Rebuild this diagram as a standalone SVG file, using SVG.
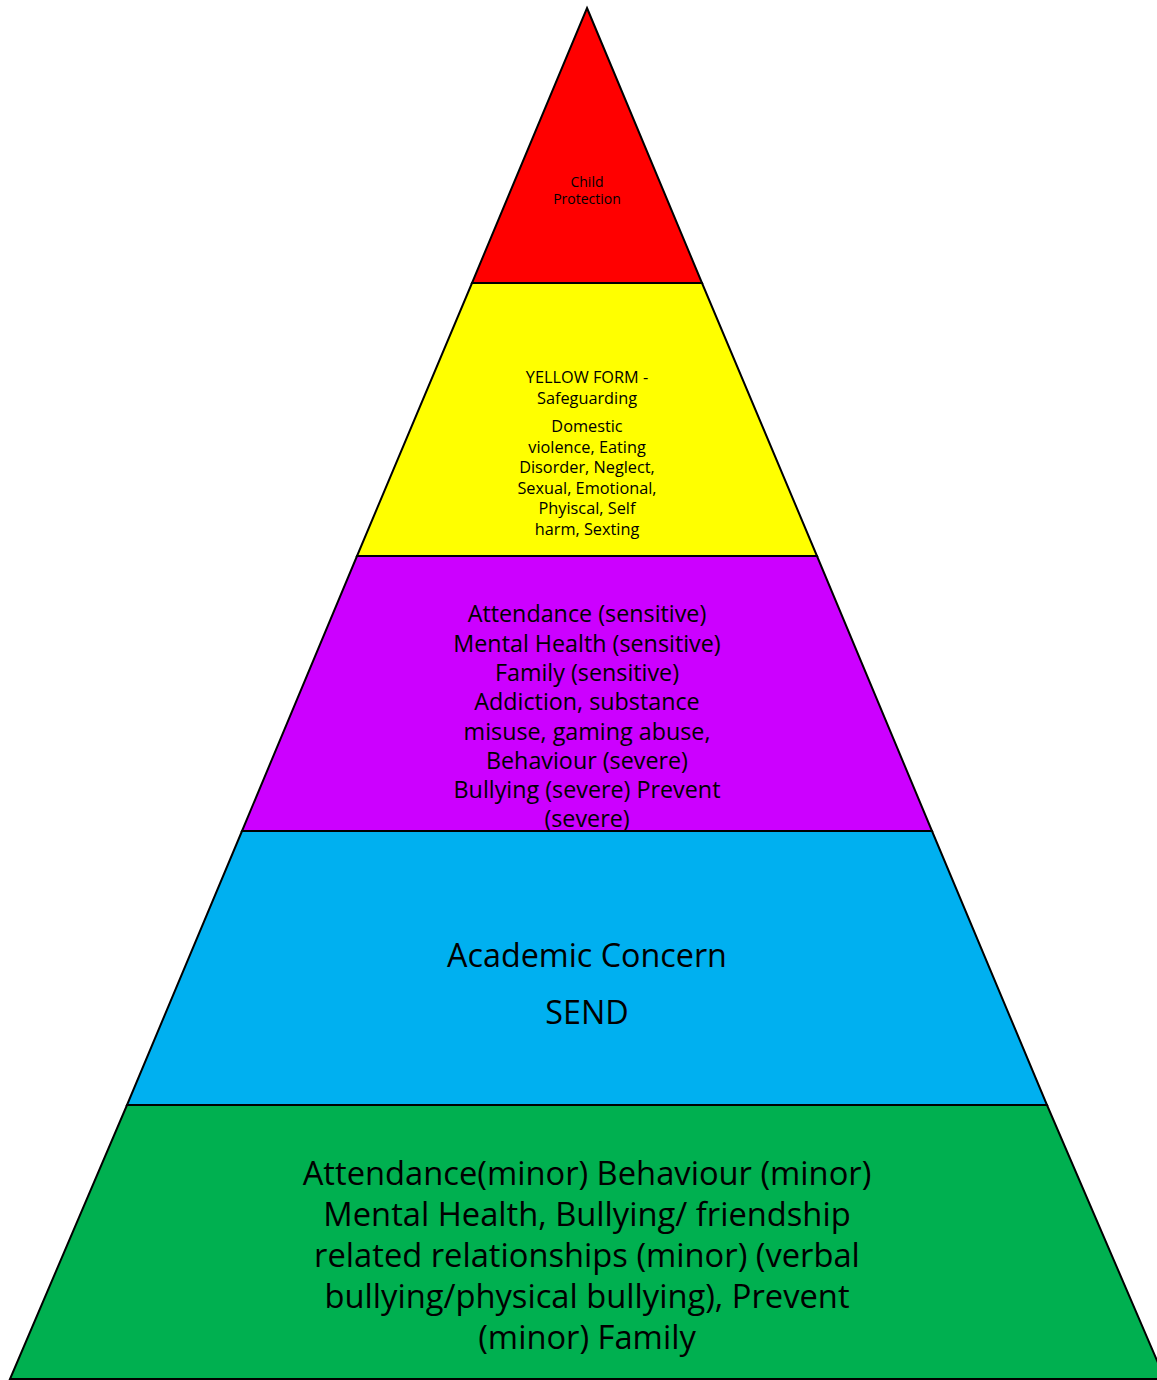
<svg xmlns="http://www.w3.org/2000/svg" width="1157" height="1380" viewBox="0 0 1157 1380">
<style>
.band{stroke:#000;stroke-width:2;stroke-linejoin:miter}
text{font-family:"Open Sans","Liberation Sans",Arial,sans-serif;fill:#000;text-anchor:middle}
.t1{font-size:14px}
.t2{font-size:16.3px}
.t3{font-size:23.3px}
.t4{font-size:32.3px}
.t5{font-size:32.7px}
</style>
<rect width="1157" height="1380" fill="#fff"/>
<g id="child-protection">
<polygon class="band" points="587,8 702,283 472,283" fill="#ff0000"/>
<text class="t1" x="587" y="187">Child</text>
<text class="t1" x="587" y="204">Protection</text>
</g>
<g id="yellow-form">
<polygon class="band" points="472,283 702,283 817,556 357,556" fill="#ffff00"/>
<text class="t2" x="587" y="383">YELLOW FORM -</text>
<text class="t2" x="587" y="404">Safeguarding</text>
<text class="t2" x="587" y="432">Domestic</text>
<text class="t2" x="587" y="453">violence, Eating</text>
<text class="t2" x="587" y="473">Disorder, Neglect,</text>
<text class="t2" x="587" y="494">Sexual, Emotional,</text>
<text class="t2" x="587" y="514">Phyiscal, Self</text>
<text class="t2" x="587" y="535">harm, Sexting</text>
</g>
<g id="sensitive">
<polygon class="band" points="357,556 817,556 932,831 242,831" fill="#cc00ff"/>
<text class="t3" x="587" y="622">Attendance (sensitive)</text>
<text class="t3" x="587" y="652">Mental Health (sensitive)</text>
<text class="t3" x="587" y="681">Family (sensitive)</text>
<text class="t3" x="587" y="710">Addiction, substance</text>
<text class="t3" x="587" y="740">misuse, gaming abuse,</text>
<text class="t3" x="587" y="769">Behaviour (severe)</text>
<text class="t3" x="587" y="798">Bullying (severe) Prevent</text>
<text class="t3" x="587" y="827">(severe)</text>
</g>
<g id="academic">
<polygon class="band" points="242,831 932,831 1047,1105 127,1105" fill="#00b0f0"/>
<text class="t4" x="587" y="967">Academic Concern</text>
<text class="t4" x="587" y="1024">SEND</text>
</g>
<g id="minor">
<polygon class="band" points="127,1105 1047,1105 1165,1379 10,1379" fill="#00b050"/>
<text class="t5" x="587" y="1185">Attendance(minor) Behaviour (minor)</text>
<text class="t5" x="587" y="1226">Mental Health, Bullying/ friendship</text>
<text class="t5" x="587" y="1267">related relationships (minor) (verbal</text>
<text class="t5" x="587" y="1308">bullying/physical bullying), Prevent</text>
<text class="t5" x="587" y="1349">(minor) Family</text>
</g>
<g id="connectors"></g>
</svg>
